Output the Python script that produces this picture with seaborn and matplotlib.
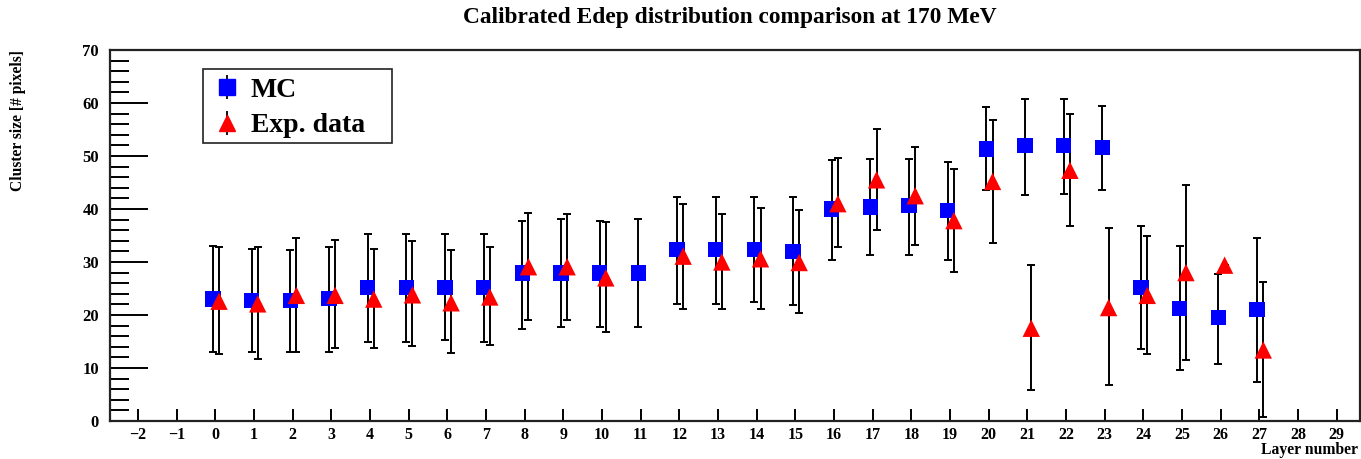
import numpy as np
import pandas as pd
import matplotlib
matplotlib.use("Agg")
import matplotlib.pyplot as plt
from matplotlib.ticker import MultipleLocator
from matplotlib.lines import Line2D
from matplotlib.patches import Rectangle
from matplotlib.legend_handler import HandlerTuple
import seaborn as sns

# ---- data ----
layers_mc = list(range(0, 28))
mc_val = [23.0, 22.8, 22.8, 23.1, 25.2, 25.2, 25.2, 25.2, 27.9, 27.9, 27.9, 27.9,
          32.3, 32.3, 32.3, 32.0, 40.0, 40.4, 40.7, 39.7, 51.3, 52.0, 52.0, 51.6,
          25.2, 21.2, 19.5, 21.0]
mc_hi = [33.0, 32.5, 32.2, 32.8, 35.2, 35.2, 35.2, 35.2, 37.8, 38.1, 37.8, 38.1,
         42.2, 42.2, 42.2, 42.2, 49.2, 49.4, 49.5, 48.9, 59.3, 60.7, 60.7, 59.5,
         36.7, 33.1, 27.7, 34.6]
mc_lo = [13.1, 13.1, 13.1, 13.1, 14.9, 14.9, 15.3, 14.9, 17.3, 17.7, 17.7, 17.7,
         22.1, 22.1, 22.4, 21.8, 30.4, 31.3, 31.3, 30.4, 43.5, 42.6, 42.9, 43.5,
         13.6, 9.6, 10.8, 7.3]

layers_exp = [0, 1, 2, 3, 4, 5, 6, 7, 8, 9, 10, 12, 13, 14, 15, 16, 17, 18, 19,
              20, 21, 22, 23, 24, 25, 26, 27]
exp_val = [22.6, 22.1, 23.7, 23.7, 23.0, 23.8, 22.3, 23.4, 29.1, 29.1, 27.0,
           31.1, 30.0, 30.6, 29.9, 41.0, 45.5, 42.5, 37.8, 45.2, 17.5, 47.3, 21.4,
           23.7, 28.0, 29.4, 13.4]
exp_hi = [32.8, 32.8, 34.6, 34.2, 32.5, 33.9, 32.2, 32.8, 39.3, 39.0, 37.5,
          41.0, 39.0, 40.2, 39.9, 49.7, 55.1, 51.7, 47.6, 56.8, 29.5, 58.0, 36.4,
          34.9, 44.6, 29.4, 26.2]
exp_lo = [12.6, 11.7, 13.1, 13.7, 13.7, 14.1, 12.8, 14.4, 19.1, 19.1, 16.7,
          21.1, 21.1, 21.1, 20.3, 32.8, 36.1, 33.3, 28.2, 33.6, 5.8, 36.7, 6.8,
          12.6, 11.5, 29.4, 0.8]

title = "Calibrated Edep distribution comparison at 170 MeV"
xlabel = "Layer number"
ylabel = "Cluster size [# pixels]"
labels = ["MC", "Exp. data"]

# ---- figure ----
sns.set_style("white")
plt.rcParams["font.family"] = ["Liberation Serif", "DejaVu Serif"]
plt.rcParams["font.weight"] = "bold"
plt.rcParams["axes.unicode_minus"] = True
plt.rcParams["text.color"] = "black"
plt.rcParams["xtick.color"] = "black"
plt.rcParams["ytick.color"] = "black"
plt.rcParams["xtick.labelcolor"] = "black"
plt.rcParams["ytick.labelcolor"] = "black"

W, H = 1361, 459
fig = plt.figure(figsize=(W / 100, H / 100), dpi=100)
ax = fig.add_axes([110 / W, 1 - 421 / H, 1250 / W, 371 / H])

mc_off, exp_off = -0.06, 0.1
df_mc = pd.DataFrame({"x": np.array(layers_mc) + mc_off, "y": mc_val})
df_exp = pd.DataFrame({"x": np.array(layers_exp) + exp_off, "y": exp_val})

ekw = dict(fmt="none", ecolor="black", elinewidth=1.4, capsize=3.0,
           capthick=1.4, zorder=2)
ax.errorbar(df_mc["x"], df_mc["y"],
            yerr=[np.array(mc_val) - np.array(mc_lo), np.array(mc_hi) - np.array(mc_val)],
            **ekw)
ax.errorbar(df_exp["x"], df_exp["y"],
            yerr=[np.array(exp_val) - np.array(exp_lo), np.array(exp_hi) - np.array(exp_val)],
            **ekw)

sns.scatterplot(data=df_mc, x="x", y="y", marker="s", color="#0000ff",
                s=11 ** 2, edgecolor="none", linewidth=0, ax=ax, zorder=3)
sns.scatterplot(data=df_exp, x="x", y="y", marker="^", color="#ff0000",
                s=12.5 ** 2, edgecolor="none", linewidth=0, ax=ax, zorder=4)

ax.set_xlim(-2.72, 29.6)
ax.set_ylim(0, 70)
ax.xaxis.set_major_locator(MultipleLocator(1))
ax.yaxis.set_major_locator(MultipleLocator(10))
ax.yaxis.set_minor_locator(MultipleLocator(2))

for s in ax.spines.values():
    s.set_linewidth(1.6)
    s.set_color("#222222")

ax.tick_params(axis="y", which="major", direction="in", length=27, width=1.4,
               labelsize=12, pad=8, left=True, right=False)
ax.tick_params(axis="y", which="minor", direction="in", length=13.5, width=1.4,
               left=True, right=False)
ax.tick_params(axis="x", which="major", direction="in", length=8.5, width=1.4,
               labelsize=11.5, pad=4, bottom=True, top=False)
for lab in ax.get_xticklabels() + ax.get_yticklabels():
    lab.set_fontweight("bold")

ax.set_xlabel("")
ax.set_ylabel("")
fig.text(1358 / W, 1 - 450 / H, xlabel, ha="right", va="center",
         fontsize=11.3, fontweight="bold")
fig.text(18 / W, 1 - 50 / H, ylabel, ha="center", va="top", rotation=90,
         fontsize=11.2, fontweight="bold")
fig.text(730 / W, 1 - 18 / H, title, ha="center", va="center",
         fontsize=16.8, fontweight="bold")

# legend: frame drawn separately to get the reference's wide right margin
bx0, by0, bx1, by1 = 203, 69, 392, 143
fig.patches.append(Rectangle((bx0 / W, 1 - by1 / H), (bx1 - bx0) / W,
                             (by1 - by0) / H, transform=fig.transFigure,
                             fill=True, facecolor="white", edgecolor="#222222",
                             linewidth=1.2, zorder=5))

bar = dict(marker="|", color="black", markersize=17, markeredgewidth=1.3,
           linestyle="none")
h_mc = (Line2D([0], [0], **bar),
        Line2D([0], [0], marker="s", markerfacecolor="#0000ff",
               markeredgecolor="#0000ff", markersize=11, linestyle="none"))
h_exp = (Line2D([0], [0], **bar),
         Line2D([0], [0], marker="^", markerfacecolor="#ff0000",
                markeredgecolor="#ff0000", markersize=12, linestyle="none"))
leg = ax.legend([h_mc, h_exp], labels, loc="upper left",
                handler_map={tuple: HandlerTuple(ndivide=1, pad=0)},
                bbox_to_anchor=((bx0 - 110) / 1250, 1 - (by0 - 50) / 371),
                frameon=False, labelcolor="black",
                prop={"family": "Liberation Serif", "weight": "bold", "size": 20},
                handlelength=1.15, handletextpad=0.27, borderpad=0.3,
                labelspacing=0.36, borderaxespad=0)
leg.set_zorder(6)
ax.set_zorder(1)
leg.set_figure(fig)
ax.legend_ = None
fig.legends.append(leg)

fig.savefig("out.png", dpi=100)
